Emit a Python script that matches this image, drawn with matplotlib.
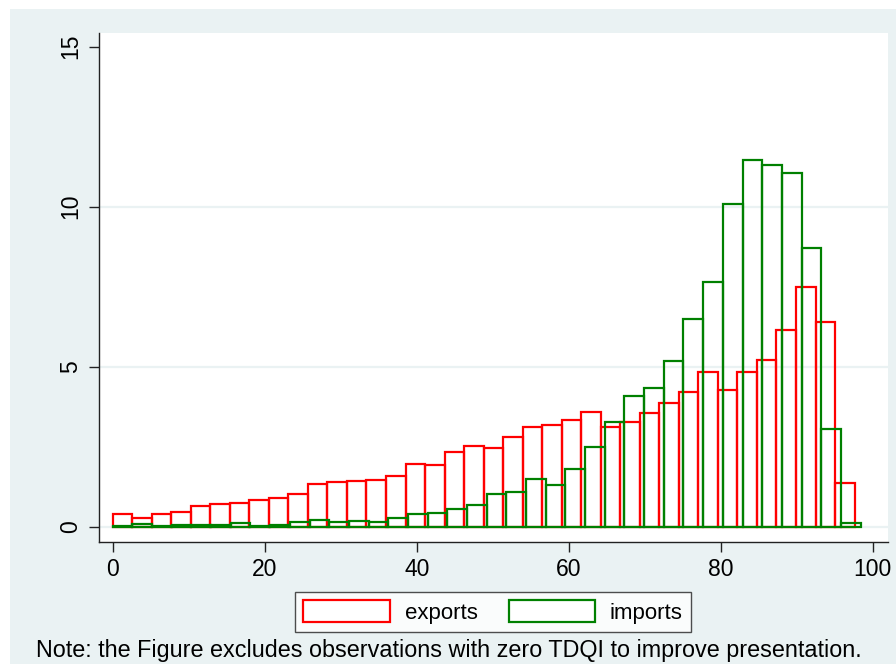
import numpy as np
import matplotlib
matplotlib.use('Agg')
import matplotlib.pyplot as plt
from matplotlib.patches import Patch, Rectangle

plt.rcParams['font.family'] = ['Liberation Sans', 'DejaVu Sans']

# percent of observations per bin (38 bins each, both starting at 0)
exports_pct = [0.40, 0.28, 0.40, 0.45, 0.65, 0.71, 0.73, 0.84, 0.90, 1.03,
               1.32, 1.39, 1.43, 1.47, 1.58, 1.97, 1.92, 2.34, 2.52, 2.47,
               2.80, 3.12, 3.18, 3.33, 3.57, 3.11, 3.28, 3.56, 3.88, 4.22,
               4.84, 4.27, 4.82, 5.22, 6.15, 7.49, 6.41, 1.36]
imports_pct = [0.02, 0.09, 0.02, 0.04, 0.04, 0.06, 0.13, 0.03, 0.06, 0.14,
               0.21, 0.14, 0.17, 0.14, 0.27, 0.41, 0.43, 0.56, 0.68, 1.02,
               1.08, 1.50, 1.30, 1.80, 2.48, 3.28, 4.08, 4.32, 5.19, 6.48,
               7.66, 10.07, 11.46, 11.30, 11.05, 8.72, 3.04, 0.13]
exports_max = 97.6
imports_max = 98.4

x_ticks = [0, 20, 40, 60, 80, 100]
y_ticks = [0, 5, 10, 15]
note = "Note: the Figure excludes observations with zero TDQI to improve presentation."

bg = '#EAF2F3'

fig = plt.figure(figsize=(8.96, 6.64), dpi=100, facecolor='white')
fig.patches.append(Rectangle((10 / 896, 0), 1, (664 - 9) / 664, transform=fig.transFigure,
                             facecolor=bg, edgecolor='none', zorder=-10))

ax = fig.add_axes([99 / 896, (664 - 541.7) / 664, (888 - 99) / 896, (541.7 - 33.3) / 664])
ax.set_facecolor('white')

# bins
ex_w = exports_max / len(exports_pct)
im_w = imports_max / len(imports_pct)
ex_left = np.arange(len(exports_pct)) * ex_w
im_left = np.arange(len(imports_pct)) * im_w

for y in [0, 5, 10]:
    ax.axhline(y, color=bg, lw=1.6, zorder=0)

ax.bar(ex_left, exports_pct, width=ex_w, align='edge', fill=False,
       edgecolor='#FF0000', linewidth=1.6, zorder=2)
ax.bar(im_left, imports_pct, width=im_w, align='edge', fill=False,
       edgecolor='#008000', linewidth=1.6, zorder=3)

ax.set_xlim(-1.8, 102.0)
ax.set_ylim(-0.47, 15.42)
ax.set_xticks(x_ticks)
ax.set_yticks(y_ticks)
ax.tick_params(axis='both', direction='out', length=7, width=1, color='#222222',
               labelsize=16.5)
ax.tick_params(axis='x', pad=5)
ax.tick_params(axis='y', pad=5)
for lab in ax.get_yticklabels():
    lab.set_rotation(90)
    lab.set_verticalalignment('center')

for s in ['top', 'right']:
    ax.spines[s].set_visible(False)
for s in ['left', 'bottom']:
    ax.spines[s].set_color('#222222')
    ax.spines[s].set_linewidth(1)

handles = [Patch(facecolor='white', edgecolor='#FF0000', linewidth=1.6, label='exports'),
           Patch(facecolor='white', edgecolor='#008000', linewidth=1.6, label='imports')]
leg = fig.legend(handles=handles, loc='center', bbox_to_anchor=(493 / 896, (664 - 612) / 664),
                 ncol=2, fontsize=16, frameon=True, fancybox=False,
                 handlelength=3.9, handleheight=1.08, handletextpad=0.65,
                 columnspacing=1.4, borderpad=0.4)
leg.get_frame().set_edgecolor('#222222')
leg.get_frame().set_linewidth(1)
leg.get_frame().set_facecolor('white')

fig.text(36 / 896, (664 - 650) / 664, note, fontsize=16.8, ha='left', va='center')

fig.savefig('out.png', dpi=100, facecolor=fig.get_facecolor())
